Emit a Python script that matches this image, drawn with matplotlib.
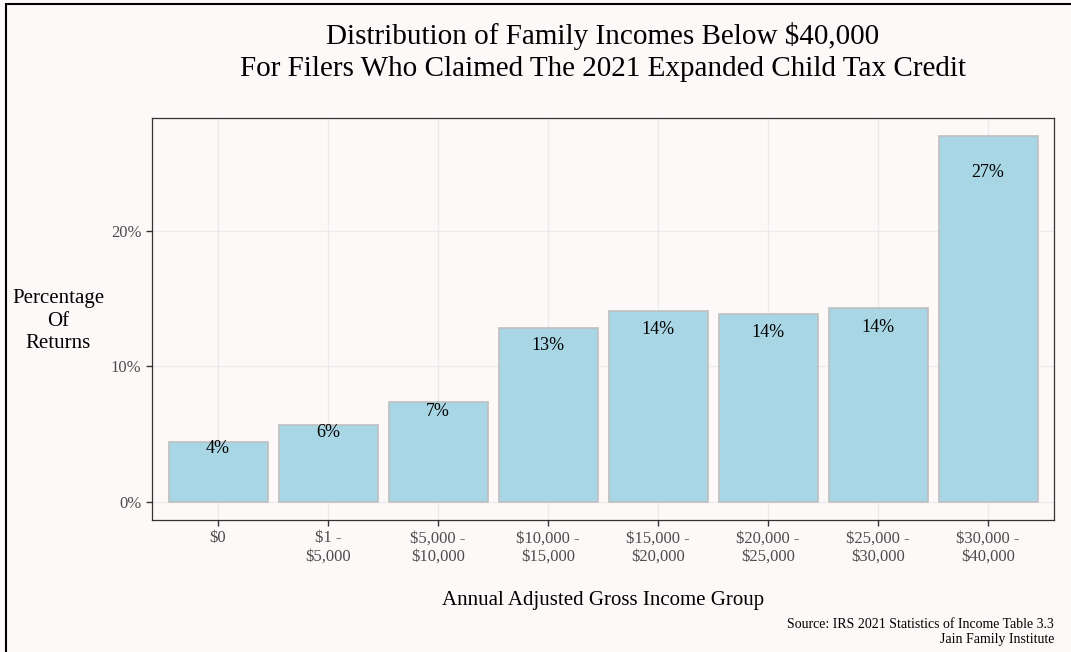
import matplotlib
matplotlib.use('Agg')
import matplotlib.pyplot as plt
from matplotlib.patches import Rectangle

plt.rcParams['font.family'] = ['Liberation Serif', 'DejaVu Serif']

# income groups and share of returns (%)
groups = ['$0', '$1 -\n$5,000', '$5,000 -\n$10,000', '$10,000 -\n$15,000',
          '$15,000 -\n$20,000', '$20,000 -\n$25,000', '$25,000 -\n$30,000',
          '$30,000 -\n$40,000']
share = [4.4, 5.7, 7.4, 12.8, 14.1, 13.9, 14.3, 27.0]
bar_labels = ['4%', '6%', '7%', '13%', '14%', '14%', '14%', '27%']

bg = '#fdf9f8'
fig = plt.figure(figsize=(10.71, 6.52), dpi=100, facecolor=bg)
ax = fig.add_axes([152/1071, 1 - 520/652, 902/1071, 402/652])
ax.set_facecolor(bg)

x = list(range(len(groups)))
ax.bar(x, share, width=0.9, color='#a8d6e4', edgecolor='#bfbfbf', linewidth=1.2, zorder=2)
for xi, v, lab in zip(x, share, bar_labels):
    ax.text(xi, v * 0.9, lab, ha='center', va='center', fontsize=13, color='black', zorder=3)

top = max(share)
ax.set_xlim(-0.6, len(groups) - 0.4)
ax.set_ylim(-top * 0.05, top * 1.05)
ax.set_xticks(x)
ax.set_xticklabels(groups, fontsize=12, color='#4d4d4d', linespacing=1.2)
ax.set_yticks([0, 10, 20])
ax.set_yticklabels(['0%', '10%', '20%'], fontsize=12, color='#4d4d4d')
ax.tick_params(axis='both', length=4, color='#333333', width=1)
ax.grid(True, color='#ebebeb', linewidth=1, zorder=0)
ax.set_axisbelow(True)
for s in ax.spines.values():
    s.set_color('#333333')
    s.set_linewidth(0.9)

ax.set_xlabel('Annual Adjusted Gross Income Group', fontsize=15, labelpad=19)
ax.set_ylabel('Percentage\nOf\nReturns', fontsize=15, rotation=0, ha='center', va='center',
              linespacing=1.25)
ax.yaxis.set_label_coords(-(152 - 58) / 902, (520 - 321) / 402)

fig.text(603/1071, 1 - 52/652, 'Distribution of Family Incomes Below $40,000\n'
         'For Filers Who Claimed The 2021 Expanded Child Tax Credit',
         ha='center', va='center', fontsize=21, linespacing=1.27)
fig.text(1054/1071, 1 - 632/652, 'Source: IRS 2021 Statistics of Income Table 3.3\n'
         'Jain Family Institute', ha='right', va='center', fontsize=10, linespacing=1.25)

# frame round the figure
fig.patches.append(Rectangle((6/1071, -0.1), 1.2, 1 - 4/652 + 0.1, transform=fig.transFigure,
                             fill=False, edgecolor='black', linewidth=1.5))

fig.savefig('out.png', dpi=100, facecolor=bg)
